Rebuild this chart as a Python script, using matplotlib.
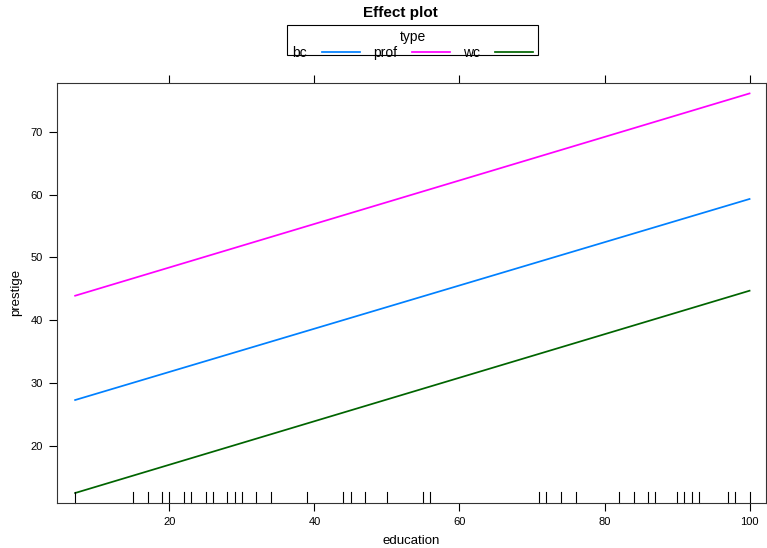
import matplotlib
matplotlib.use("Agg")
import matplotlib.pyplot as plt
import matplotlib.transforms as mtransforms
from matplotlib.lines import Line2D
from matplotlib.patches import Rectangle

plt.rcParams['font.family'] = ['Liberation Sans', 'DejaVu Sans']

# fitted effect lines (education endpoints -> prestige)
education_ends = [7, 100]
types = ['bc', 'prof', 'wc']
prestige_ends = {
    'bc': [27.3, 59.3],
    'prof': [43.9, 76.1],
    'wc': [12.5, 44.7],
}
colors = {'bc': '#0080ff', 'prof': '#ff00ff', 'wc': '#006400'}

# rug of observed education values
rug = [7, 15, 17, 19, 20, 22, 23, 25, 26, 28, 29, 30, 32, 34, 39, 44, 45, 47, 50,
       55, 56, 71, 72, 74, 76, 82, 84, 86, 87, 90, 91, 92, 93, 97, 98, 100]

fig = plt.figure(figsize=(7.67, 5.48), dpi=100)
ax = fig.add_axes([0.0743, 0.082, 0.9247, 0.767])

for t in types:
    ax.plot(education_ends, prestige_ends[t], color=colors[t], lw=1.25)

# rug along the bottom
trans = mtransforms.blended_transform_factory(ax.transData, ax.transAxes)
for r in rug:
    ax.plot([r, r], [0, 0.026], color='black', lw=0.8, transform=trans, clip_on=False)

ax.set_xlim(4.5, 102.3)
ax.set_ylim(10.9, 77.8)
ax.set_xticks([20, 40, 60, 80, 100])
ax.set_yticks([20, 30, 40, 50, 60, 70])
ax.tick_params(axis='x', direction='out', top=True, bottom=True, labeltop=False,
               length=6, width=0.8, labelsize=8, pad=4)
ax.tick_params(axis='y', direction='out', left=True, right=False,
               length=6, width=0.8, labelsize=8, pad=4)
for s in ax.spines.values():
    s.set_linewidth(0.8)
    s.set_color('#333333')

ax.set_xlabel('education', fontsize=9.5, labelpad=6)
ax.set_ylabel('prestige', fontsize=9.5, labelpad=6)

# title and legend (lattice style key, box drawn separately)
fig.text(0.522, 0.977, 'Effect plot', ha='center', va='center', fontsize=11, fontweight='bold')
handles = [Line2D([], [], color=colors[t], lw=1.25) for t in types]
leg = fig.legend(handles, types, loc='center', bbox_to_anchor=(0.538, 0.918), ncol=3,
                 title='type', fontsize=10, title_fontsize=10, frameon=False,
                 markerfirst=False, handlelength=2.7, handletextpad=1.1,
                 columnspacing=0.95, borderpad=0, labelspacing=0.2, borderaxespad=0)
fig.patches.append(Rectangle((0.3742, 0.8996), 0.3272, 0.0547, transform=fig.transFigure,
                             fill=False, edgecolor='black', lw=0.8))

fig.savefig('out.png', dpi=100)
